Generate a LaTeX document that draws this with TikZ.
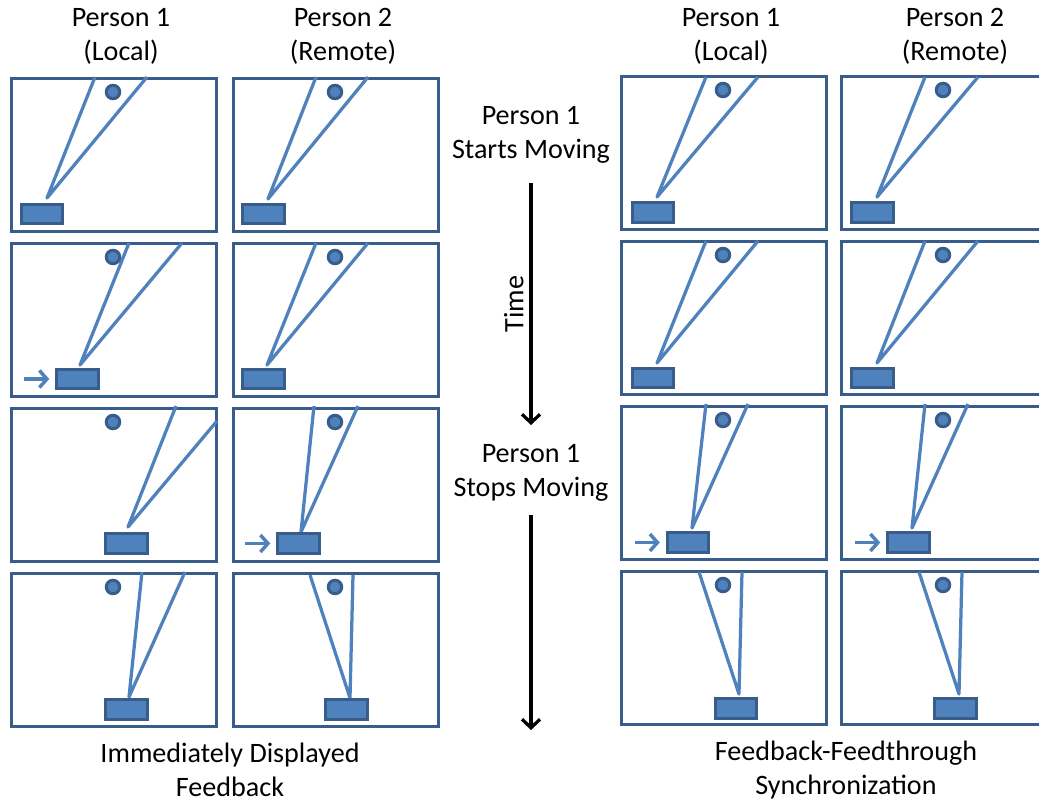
\documentclass[tikz,border=0pt]{standalone}
\usepackage{fontspec}
\setmainfont{Carlito}
\usetikzlibrary{arrows.meta}
\definecolor{edgeblue}{HTML}{385D8A}
\definecolor{fillblue}{HTML}{4F81BD}

\begin{document}
\begin{tikzpicture}[x=0.02cm, y=-0.02cm,
  screen/.style={draw=edgeblue, line width=0.07cm, minimum width=4.1cm, minimum height=3.06cm, inner sep=0pt},
  beam/.style={draw=fillblue, line width=0.065cm, line join=round},
  token/.style={draw=edgeblue, fill=fillblue, line width=0.06cm, minimum width=0.83cm, minimum height=0.39cm, inner sep=0pt},
  ball/.style={circle, draw=edgeblue, fill=fillblue, line width=0.06cm, minimum size=0.27cm, inner sep=0pt},
  nudge/.style={draw=fillblue, line width=0.07cm, -{Straight Barb[length=0.15cm, width=0.34cm]}},
  timeline/.style={line width=0.065cm, -{Straight Barb[length=0.17cm, width=0.36cm]}},
  caption/.style={align=center, font=\fontsize{16}{19.4}\selectfont}]
  \useasboundingbox (0,0) rectangle (1039,805);

  % Column heads
  \node[caption] (head1) at (121,36) {Person 1\\(Local)};
  \node[caption] (head2) at (343,36) {Person 2\\(Remote)};
  \node[caption] (head3) at (731,36) {Person 1\\(Local)};
  \node[caption] (head4) at (955,36) {Person 2\\(Remote)};

  % Screens: name/frame/token/apex/beam ends
  \foreach \n/\fx/\fy/\rx/\ry/\ax/\ay/\px/\py/\qx/\qy in {
      a1/114/155/42/214/47/198/95/77/147/77,
      a2/114/320/77.5/379/80/365/129/243/182/243,
      a3/114/485/126.5/543.5/128/527/176/406/217/421,
      a4/114/650/126.5/709.5/129/697/142/572/185/572,
      b1/336/155/263.5/214/268/199/316/77/368/77,
      b2/336/320/263.5/379/267/365/316/243/368/243,
      b3/336/485/298.5/543.5/301/532/314/406/358/406,
      b4/336/650/346.5/709.5/350/698/310/575/353/575,
      c1/724/153/653/212.5/657/197/706/77/758/77,
      c2/724/318/653/378/657/363/706/241/758/241,
      c3/724/483/688/542.5/692/528/706/404/748/404,
      c4/724/648/736/708.5/739/694/699/572/742/572,
      d1/944/153/872.5/212.5/877/197/925/77/978/77,
      d2/944/318/872.5/378/877/363/925/241/978/241,
      d3/944/483/908.5/542.5/912/528/925/404/968/404,
      d4/944/648/955.5/708.5/959/694/919/572/962/572} {
    \node[screen] (\n-screen) at (\fx,\fy) {};
    \draw[beam] (\px,\py) -- (\ax,\ay) -- (\qx,\qy);
    \node[token] (\n-tok) at (\rx,\ry) {};
    \node[ball] (\n-ball) at (\fx-1,\fy-63) {};
  }

  % Movement arrows
  \draw[nudge] ([xshift=-0.62cm]a2-tok.west) -- ([xshift=-0.12cm]a2-tok.west);
  \draw[nudge] ([xshift=-0.62cm]b3-tok.west) -- ([xshift=-0.12cm]b3-tok.west);
  \draw[nudge] ([xshift=-0.62cm]c3-tok.west) -- ([xshift=-0.12cm]c3-tok.west);
  \draw[nudge] ([xshift=-0.62cm]d3-tok.west) -- ([xshift=-0.12cm]d3-tok.west);

  % Time line
  \node[caption] (start) at (531,135) {Person 1\\Starts Moving};
  \node[caption] (stop) at (531,473) {Person 1\\Stops Moving};
  \coordinate (end) at (531,730);
  \draw[timeline, shorten <=0.96cm, shorten >=0.96cm] (start.center) -- node[midway, caption, rotate=90, anchor=south] {Time} (stop.center);
  \draw[timeline, shorten <=0.84cm] (stop.center) -- (end);

  % Captions
  \node[caption] (left) at (230,770) {Immediately Displayed\\Feedback};
  \node[caption] (right) at (846,770) {Feedback-Feedthrough\\Synchronization};
\end{tikzpicture}
\end{document}
